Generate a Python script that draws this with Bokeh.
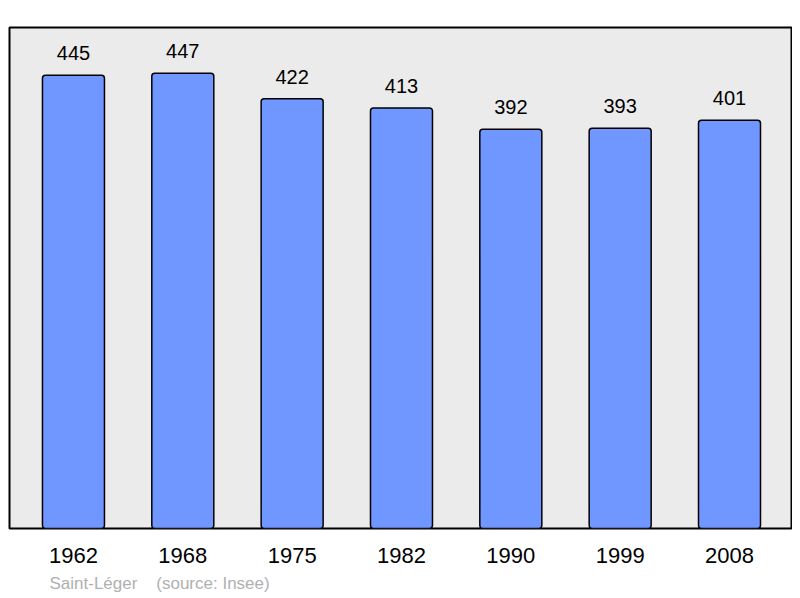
from bokeh.plotting import figure
from bokeh.models import ColumnDataSource, Range1d, FixedTicker, Title
from bokeh.core.properties import value
from bokeh.embed import file_html
from bokeh.resources import INLINE

years = ["1962", "1968", "1975", "1982", "1990", "1999", "2008"]
population = [445, 447, 422, 413, 392, 393, 401]
xpos = list(range(len(years)))

src = ColumnDataSource(dict(x=xpos, top=population, lbl=[str(v) for v in population]))

p = figure(width=792, height=598, output_backend="svg", toolbar_location=None,
           x_range=Range1d(-0.585, 6.567), y_range=Range1d(0, 492),
           min_border_left=9, min_border_right=1, min_border_top=27, min_border_bottom=70)
p.background_fill_color = "#ebebeb"
p.border_fill_color = "white"
p.outline_line_color = "black"
p.outline_line_width = 2
p.grid.visible = False
p.yaxis.visible = False

p.vbar(x="x", top="top", bottom=0, width=0.567, source=src,
       fill_color="#7096ff", line_color="black", line_width=1.5, border_radius=3)
p.text(x="x", y="top", text="lbl", source=src, text_align="center",
       text_baseline="alphabetic", y_offset=-22, text_font_size="20px",
       text_font=value("Liberation Sans"), text_color="black")

ax = p.xaxis[0]
ax.ticker = FixedTicker(ticks=xpos)
ax.major_label_overrides = {i: y for i, y in zip(xpos, years)}
ax.axis_line_color = None
ax.major_tick_line_color = None
ax.minor_tick_line_color = None
ax.major_label_text_font = "Liberation Sans"
ax.major_label_text_font_size = "22px"
ax.major_label_text_color = "black"
ax.major_label_standoff = 13

footer = Title(text="Saint-Léger\u00a0\u00a0\u00a0\u00a0(source: Insee)", align="left", offset=40,
               text_font="Liberation Sans", text_font_size="17px",
               text_color="#b0b0b0", text_font_style="normal", standoff=12)
p.add_layout(footer, "below")

open("out.html", "w").write(file_html(p, INLINE))
